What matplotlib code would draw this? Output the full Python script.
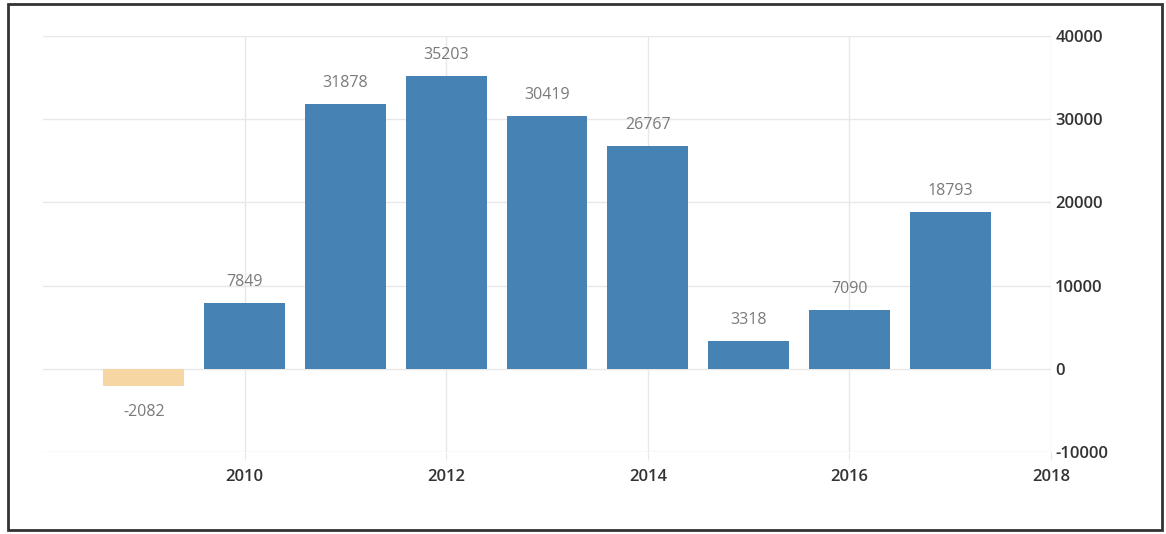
import matplotlib.pyplot as plt
from matplotlib.patches import Rectangle

years = [2009, 2010, 2011, 2012, 2013, 2014, 2015, 2016, 2017]
values = [-2082, 7849, 31878, 35203, 30419, 26767, 3318, 7090, 18793]
x_ticks = [2010, 2012, 2014, 2016, 2018]
y_ticks = [-10000, 0, 10000, 20000, 30000, 40000]

plt.rcParams['font.family'] = ['Open Sans', 'DejaVu Sans']
plt.rcParams['axes.unicode_minus'] = False

fig = plt.figure(figsize=(11.66, 5.34), dpi=100)
ax = fig.add_axes([43 / 1166, 82 / 534, 1008 / 1166, 416 / 534])

colors = ['#f6d7a3' if v < 0 else '#4682b4' for v in values]
ax.bar(years, values, width=0.8, color=colors, zorder=2)

# value labels
for yr, v in zip(years, values):
    off = 21 if v >= 0 else -26
    ax.annotate(str(v), (yr, v), xytext=(0, off), textcoords='offset pixels',
                ha='center', va='center', fontsize=11.5, color='#7a7a7a')

ax.set_xlim(2008, 2018)
ax.set_ylim(-10000, 40000)
ax.set_xticks(x_ticks)
ax.set_yticks(y_ticks)
ax.grid(True, color='#e8e8e8', linewidth=1, zorder=0)
for s in ax.spines.values():
    s.set_visible(False)

ax.yaxis.tick_right()
ax.tick_params(axis='y', length=0, pad=3, labelsize=12, labelcolor='#333333')
ax.tick_params(axis='x', length=6, color='#e8e8e8', pad=6.5, labelsize=12,
               labelcolor='#333333')
for lab in ax.get_xticklabels() + ax.get_yticklabels():
    lab.set_fontweight('semibold')

# outer frame
fig.patches.append(Rectangle((8 / 1166, 4 / 534), 1154 / 1166, 526 / 534,
                             transform=fig.transFigure, fill=False,
                             edgecolor='#333333', linewidth=2))

fig.savefig('out.png', dpi=100)
